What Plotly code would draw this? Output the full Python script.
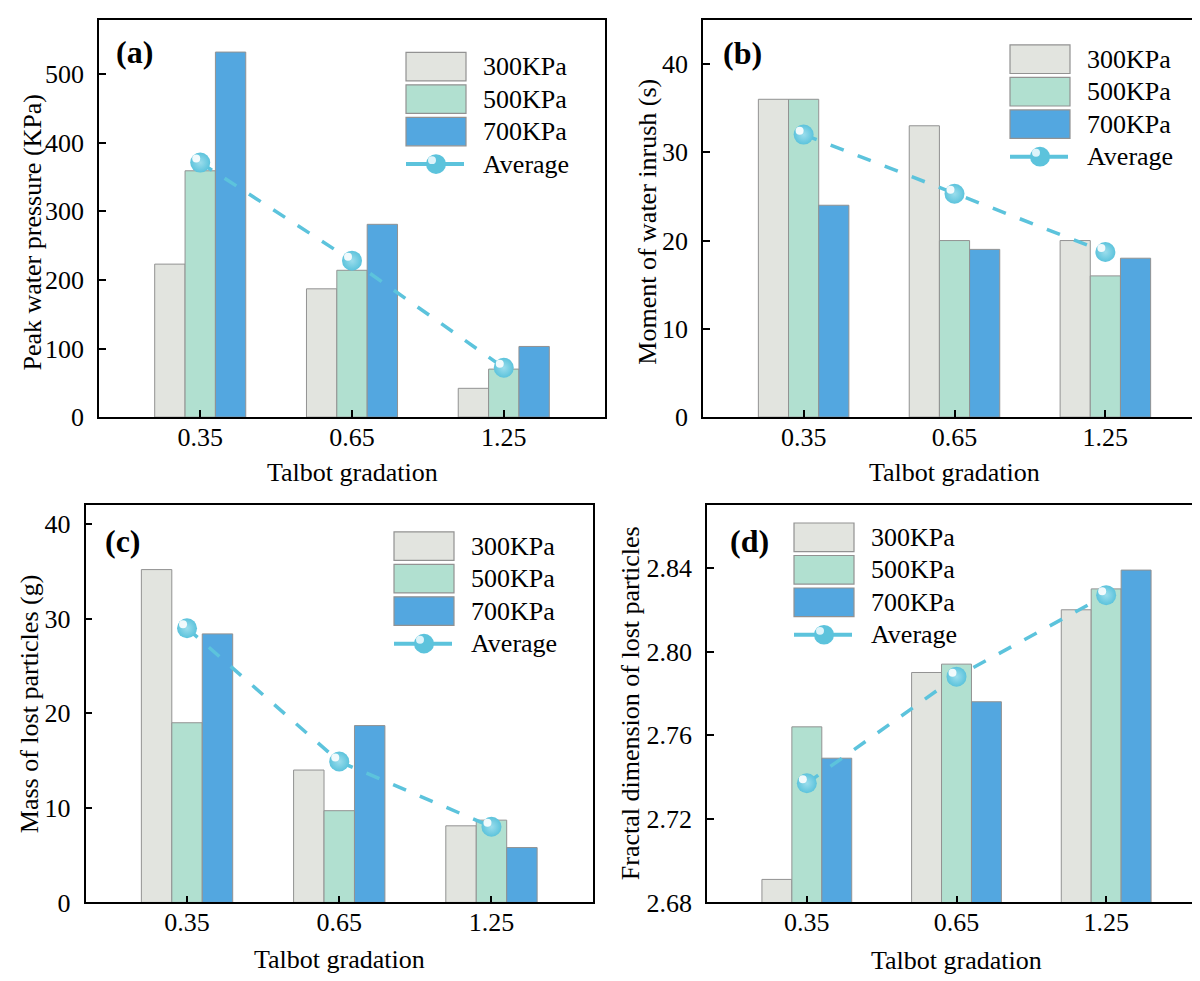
import plotly.graph_objects as go

# ---------------- data ----------------
categories = ["0.35", "0.65", "1.25"]
series_names = ["300KPa", "500KPa", "700KPa"]
avg_name = "Average"

# (a) Peak water pressure (KPa)
a_300 = [223, 187, 42]
a_500 = [359, 214, 70]
a_700 = [532, 281, 103]
a_avg = [371, 228, 72]

# (b) Moment of water inrush (s)
b_300 = [36, 33, 20]
b_500 = [36, 20, 16]
b_700 = [24, 19, 18]
b_avg = [32, 25.3, 18.7]

# (c) Mass of lost particles (g)
c_300 = [35.2, 14.0, 8.1]
c_500 = [19.0, 9.7, 8.7]
c_700 = [28.4, 18.7, 5.8]
c_avg = [29.0, 14.9, 8.0]

# (d) Fractal dimension of lost particles
d_300 = [2.691, 2.790, 2.820]
d_500 = [2.764, 2.794, 2.830]
d_700 = [2.749, 2.776, 2.839]
d_avg = [2.737, 2.788, 2.827]

a_ticks = [0, 100, 200, 300, 400, 500]
b_ticks = [0, 10, 20, 30, 40]
c_ticks = [0, 10, 20, 30, 40]
d_ticks = [2.68, 2.72, 2.76, 2.80, 2.84]

# ---------------- style ----------------
W, H = 1200, 981
FONT = "Liberation Serif, Times New Roman, serif"
bar_colors = ["#E2E4DF", "#B1E0D0", "#53A7E0"]
bar_edge = "#929292"
avg_color = "#5CC3DC"
FS = 26

def px(x):
    return x / W

def py(y):
    return 1 - y / H

panels = [
    dict(key="a", label="(a)", s=[a_300, a_500, a_700], avg=a_avg, rng=[0, 579], ticks=a_ticks, fmt="",
         dom_x=[91, 597], dom_y=[12, 415.5], ytitle="Peak water pressure (KPa)", ytpos=(25, 228),
         xtpos=(344, 472), lab=(126, 45), leg=(398, 45)),
    dict(key="b", label="(b)", s=[b_300, b_500, b_700], avg=b_avg, rng=[0, 45], ticks=b_ticks, fmt="",
         dom_x=[695, 1198], dom_y=[12, 415.5], ytitle="Moment of water inrush (s)", ytpos=(640, 217),
         xtpos=(946.5, 472), lab=(734, 46), leg=(1002, 37.5)),
    dict(key="c", label="(c)", s=[c_300, c_500, c_700], avg=c_avg, rng=[0, 42], ticks=c_ticks, fmt="",
         dom_x=[77.5, 585], dom_y=[505, 908.3], ytitle="Mass of lost particles (g)", ytpos=(21, 707),
         xtpos=(331, 966), lab=(115, 541), leg=(386, 532)),
    dict(key="d", label="(d)", s=[d_300, d_500, d_700], avg=d_avg, rng=[2.68, 2.87], ticks=d_ticks, fmt=".2f",
         dom_x=[699, 1198], dom_y=[505, 908.3], ytitle="Fractal dimension of lost particles", ytpos=(622, 706),
         xtpos=(948.5, 967), lab=(741, 541), leg=(786, 523)),
]

fig = go.Figure()
xs = list(range(len(categories)))
shapes = []
annotations = []
layout = {}

for i, p in enumerate(panels):
    n = "" if i == 0 else str(i + 1)
    xa, ya = "x" + n, "y" + n
    for name, vals, col in zip(series_names, p["s"], bar_colors):
        fig.add_trace(go.Bar(x=xs, y=vals, name=name, marker=dict(color=col, line=dict(color=bar_edge, width=1)),
                             xaxis=xa, yaxis=ya, showlegend=False))
    fig.add_trace(go.Scatter(x=xs, y=p["avg"], name=avg_name, mode="lines+markers",
                             line=dict(color=avg_color, width=3.5, dash="14px,15px"),
                             marker=dict(size=20, color=avg_color, line=dict(width=0),
                                         gradient=dict(type="radial", color="#9BDDEC")),
                             xaxis=xa, yaxis=ya, showlegend=False, cliponaxis=False))
    # specular highlight on the spheres
    span = p["rng"][1] - p["rng"][0]
    plot_h = p["dom_y"][1] - p["dom_y"][0]
    plot_w = p["dom_x"][1] - p["dom_x"][0]
    dx = 4.0 / (plot_w / 3.333)
    dy = span * 4.0 / plot_h
    fig.add_trace(go.Scatter(x=[v - dx for v in xs], y=[v + dy for v in p["avg"]], mode="markers",
                             marker=dict(size=8, color="#FFFFFF", line=dict(width=0),
                                         gradient=dict(type="radial", color="#FFFFFF"), opacity=0.9),
                             xaxis=xa, yaxis=ya, showlegend=False, hoverinfo="skip", cliponaxis=False))

    layout["xaxis" + n] = dict(domain=[px(p["dom_x"][0]), px(p["dom_x"][1])], anchor=ya,
                               range=[-0.667, 2.667], tickvals=xs, ticktext=categories,
                               showline=True, mirror=True, linecolor="black", linewidth=1.5,
                               ticks="inside", ticklen=7, tickwidth=1.5, tickcolor="black",
                               showgrid=False, zeroline=False, ticklabelstandoff=-4,
                               tickfont=dict(family=FONT, size=FS, color="black"))
    layout["yaxis" + n] = dict(domain=[py(p["dom_y"][1]), py(p["dom_y"][0])], anchor=xa,
                               range=p["rng"], tickvals=p["ticks"], tickformat=p["fmt"],
                               showline=True, mirror=True, linecolor="black", linewidth=1.5,
                               ticks="inside", ticklen=7, tickwidth=1.5, tickcolor="black",
                               showgrid=False, zeroline=False, ticklabelstandoff=8,
                               tickfont=dict(family=FONT, size=FS, color="black"))

    # axis titles
    annotations.append(dict(text=p["ytitle"], x=px(p["ytpos"][0]), y=py(p["ytpos"][1]), xref="paper", yref="paper",
                            showarrow=False, textangle=-90, xanchor="center", yanchor="middle",
                            font=dict(family=FONT, size=FS, color="black")))
    annotations.append(dict(text="Talbot gradation", x=px(p["xtpos"][0]), y=py(p["xtpos"][1]), xref="paper",
                            yref="paper", showarrow=False, xanchor="center", yanchor="middle",
                            font=dict(family=FONT, size=FS, color="black")))
    # panel label
    annotations.append(dict(text="<b>%s</b>" % p["label"], x=px(p["lab"][0]), y=py(p["lab"][1]), xref="paper",
                            yref="paper", showarrow=False, xanchor="center", yanchor="middle",
                            font=dict(family=FONT, size=32, color="black")))

    # custom legend
    L, T = p["leg"]
    rw, rh, pitch = 60, 29, 33
    for k, (name, col) in enumerate(zip(series_names, bar_colors)):
        top = T + k * pitch
        shapes.append(dict(type="rect", xref="paper", yref="paper", x0=px(L), x1=px(L + rw),
                           y0=py(top + rh), y1=py(top), fillcolor=col, line=dict(color=bar_edge, width=1.2)))
        annotations.append(dict(text=name, x=px(L + 75), y=py(top + rh / 2), xref="paper", yref="paper",
                                showarrow=False, xanchor="left", yanchor="middle",
                                font=dict(family=FONT, size=FS, color="black")))
    cy = T + 3 * pitch + rh / 2
    cx = L + 30
    shapes.append(dict(type="line", xref="paper", yref="paper", x0=px(L), x1=px(L + 58),
                       y0=py(cy), y1=py(cy), line=dict(color=avg_color, width=4)))
    shapes.append(dict(type="circle", xref="paper", yref="paper", x0=px(cx - 10), x1=px(cx + 10),
                       y0=py(cy + 10), y1=py(cy - 10), fillcolor=avg_color, line=dict(width=0)))
    shapes.append(dict(type="circle", xref="paper", yref="paper", x0=px(cx - 8), x1=px(cx),
                       y0=py(cy), y1=py(cy - 8), fillcolor="#DDF4FA", line=dict(width=0)))
    annotations.append(dict(text=avg_name, x=px(L + 75), y=py(cy), xref="paper", yref="paper",
                            showarrow=False, xanchor="left", yanchor="middle",
                            font=dict(family=FONT, size=FS, color="black")))

fig.update_layout(**layout)
fig.update_layout(width=W, height=H, margin=dict(l=0, r=0, t=0, b=0),
                  paper_bgcolor="white", plot_bgcolor="white",
                  barmode="group", bargap=0.4, bargroupgap=0,
                  shapes=shapes, annotations=annotations, showlegend=False,
                  font=dict(family=FONT, color="black"))

fig.write_html("out.html")
